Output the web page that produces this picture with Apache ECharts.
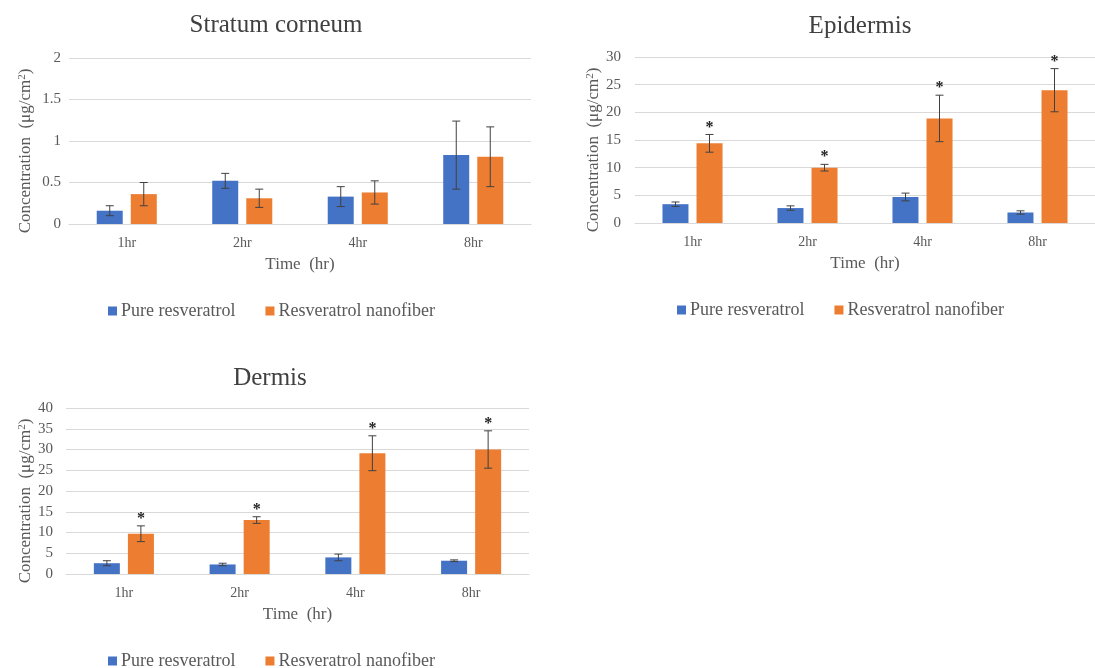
<!DOCTYPE html>
<html>
<head>
<meta charset="utf-8">
<script src="https://cdn.jsdelivr.net/npm/echarts@6/dist/echarts.min.js"></script>
<style>
  html, body { margin: 0; padding: 0; background: #fff; }
  #chart { width: 1095px; height: 668px; }
</style>
</head>
<body>
<div id="chart"></div>
<script>
// time points shared by all three panels
const times = ['1hr', '2hr', '4hr', '8hr'];
const seriesNames = ['Pure resveratrol', 'Resveratrol nanofiber'];

// Stratum corneum (ug/cm2), mean and error
const scPure = [0.16, 0.52, 0.33, 0.83];
const scPureErr = [0.06, 0.09, 0.12, 0.41];
const scNano = [0.36, 0.31, 0.38, 0.81];
const scNanoErr = [0.14, 0.11, 0.14, 0.36];
const scStars = [false, false, false, false];

// Epidermis
const epPure = [3.4, 2.7, 4.7, 1.9];
const epPureErr = [0.4, 0.4, 0.7, 0.3];
const epNano = [14.4, 10.0, 18.9, 24.0];
const epNanoErr = [1.6, 0.6, 4.2, 3.9];
const epStars = [true, true, true, true];

// Dermis
const dePure = [2.6, 2.3, 4.0, 3.2];
const dePureErr = [0.6, 0.3, 0.8, 0.2];
const deNano = [9.7, 13.0, 29.1, 30.0];
const deNanoErr = [1.9, 0.8, 4.2, 4.5];
const deStars = [true, true, true, true];

const BLUE = '#4472C4';
const ORANGE = '#ED7D31';
const GREY = '#595959';
const FONT = '"Liberation Serif", "Times New Roman", serif';

const panels = [
  { title: 'Stratum corneum', titleX: 271, titleY: 8, left: 69, top: 58, width: 462, max: 2, interval: 0.5,
    nameGap: 34, labelMargin: 8,
    legendX: 103, legendY: 297, pure: scPure, pureErr: scPureErr, nano: scNano, nanoErr: scNanoErr, stars: scStars },
  { title: 'Epidermis', titleX: 855, titleY: 9, left: 635, top: 57, width: 467, max: 30, interval: 5,
    nameGap: 30, labelMargin: 14,
    legendX: 672, legendY: 296, pure: epPure, pureErr: epPureErr, nano: epNano, nanoErr: epNanoErr, stars: epStars },
  { title: 'Dermis', titleX: 265, titleY: 361, left: 66, top: 408, width: 463, max: 40, interval: 5,
    nameGap: 31, labelMargin: 13,
    legendX: 103, legendY: 647, pure: dePure, pureErr: dePureErr, nano: deNano, nanoErr: deNanoErr, stars: deStars }
];

function errRenderer(offset, stars) {
  return function (params, api) {
    const idx = api.value(0);
    const v = api.value(1);
    const e = api.value(2);
    const x = api.coord([idx, v])[0] + offset;
    const hi = api.coord([idx, v + e])[1];
    const lo = api.coord([idx, v - e])[1];
    const style = { stroke: '#404040', lineWidth: 1 };
    const children = [
      { type: 'line', shape: { x1: x, y1: hi, x2: x, y2: lo }, style: style },
      { type: 'line', shape: { x1: x - 4, y1: hi, x2: x + 4, y2: hi }, style: style },
      { type: 'line', shape: { x1: x - 4, y1: lo, x2: x + 4, y2: lo }, style: style }
    ];
    if (stars && stars[idx]) {
      children.push({
        type: 'text',
        style: { text: '*', x: x, y: hi + 1, align: 'center', verticalAlign: 'bottom',
                 font: 'bold 16px ' + FONT, fill: '#222' }
      });
    }
    return { type: 'group', children: children };
  };
}

const title = [], grid = [], xAxis = [], yAxis = [], legend = [], series = [];

panels.forEach(function (p, i) {
  title.push({
    text: p.title, left: p.titleX, top: p.titleY, textAlign: 'center',
    textStyle: { fontFamily: FONT, fontSize: 25, fontWeight: 'normal', color: '#404040' }
  });
  grid.push({ left: p.left, top: p.top, width: p.width, height: 166 });
  xAxis.push({
    type: 'category', gridIndex: i, data: times,
    name: 'Time  (hr)', nameLocation: 'middle', nameGap: 32,
    nameTextStyle: { fontFamily: FONT, fontSize: 17, color: GREY },
    axisLine: { lineStyle: { color: '#d9d9d9' } },
    axisTick: { show: false },
    axisLabel: { fontFamily: FONT, fontSize: 14, color: GREY, margin: 12 }
  });
  yAxis.push({
    type: 'value', gridIndex: i, min: 0, max: p.max, interval: p.interval,
    name: 'Concentration  (μg/cm{sup|2})', nameLocation: 'middle', nameGap: p.nameGap,
    nameTextStyle: { fontFamily: FONT, fontSize: 17, color: GREY, padding: [0, 20, 0, 0],
      rich: { sup: { fontFamily: FONT, fontSize: 11, color: GREY, verticalAlign: 'top', padding: [0, 0, 7, 0] } } },
    axisLine: { show: false },
    axisTick: { show: false },
    splitLine: { lineStyle: { color: '#d9d9d9' } },
    axisLabel: { fontFamily: FONT, fontSize: 15, color: GREY, margin: p.labelMargin }
  });
  legend.push({
    data: seriesNames, left: p.legendX, top: p.legendY, icon: 'rect',
    itemWidth: 9, itemHeight: 9, itemGap: 30,
    textStyle: { fontFamily: FONT, fontSize: 18, color: GREY, padding: [0, 0, 0, -1] }
  });
  series.push({
    name: seriesNames[0], type: 'bar', xAxisIndex: i, yAxisIndex: i,
    data: p.pure, barWidth: 26, barGap: '31%', itemStyle: { color: BLUE }
  });
  series.push({
    name: seriesNames[1], type: 'bar', xAxisIndex: i, yAxisIndex: i,
    data: p.nano, barWidth: 26, barGap: '31%', itemStyle: { color: ORANGE }
  });
  series.push({
    name: 'err-pure-' + i, type: 'custom', xAxisIndex: i, yAxisIndex: i, z: 5,
    renderItem: errRenderer(-17, null),
    encode: { x: 0, y: 1 },
    data: p.pure.map(function (v, k) { return [k, v, p.pureErr[k]]; })
  });
  series.push({
    name: 'err-nano-' + i, type: 'custom', xAxisIndex: i, yAxisIndex: i, z: 5,
    renderItem: errRenderer(17, p.stars),
    encode: { x: 0, y: 1 },
    data: p.nano.map(function (v, k) { return [k, v, p.nanoErr[k]]; })
  });
});

const chart = echarts.init(document.getElementById('chart'), null, { renderer: 'canvas' });
chart.setOption({
  backgroundColor: '#fff',
  animation: false,
  title: title,
  grid: grid,
  xAxis: xAxis,
  yAxis: yAxis,
  legend: legend,
  series: series
});
</script>
</body>
</html>
